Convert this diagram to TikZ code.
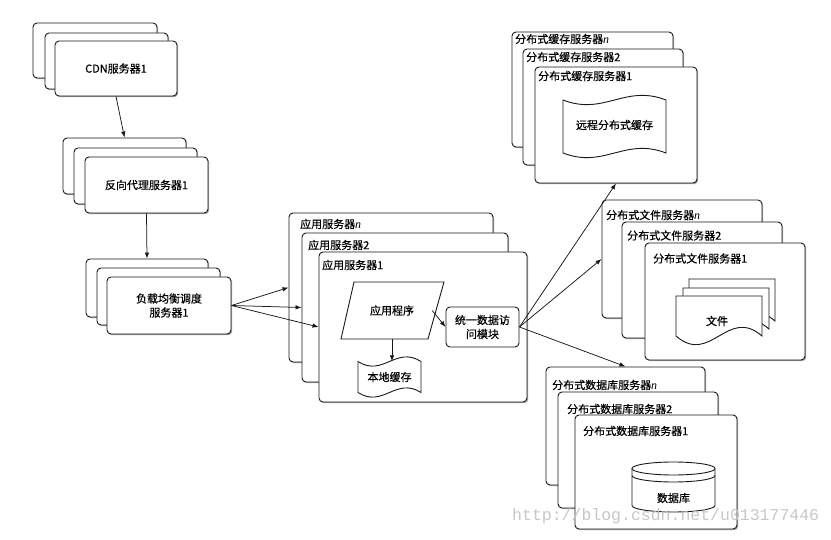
\documentclass[tikz,border=0pt]{standalone}
\usepackage{fontspec}
\setmainfont{Noto Sans CJK SC}[FakeBold=0.5]
\newfontfamily\wmfont{Liberation Mono}
\newfontfamily\nfont{Liberation Serif}
\newcommand\nn{{\nfont\itshape\fontsize{12}{14}\selectfont n}}
\usetikzlibrary{arrows.meta,shadows}
\tikzset{
  box/.style={draw=black!90, line width=0.9pt, fill=white, rounded corners=4pt, inner sep=0pt,
    drop shadow={shadow xshift=1.2pt, shadow yshift=-1.2pt, opacity=0.35, fill=black}},
  rbox/.style={draw=black!90, line width=0.9pt, fill=white, rounded corners=4pt, inner sep=0pt},
  txt/.style={font=\fontsize{11}{14}\selectfont, text=black, inner sep=0pt, align=center},
  lbl/.style={txt, anchor=west},
  conn/.style={draw=black!90, line width=0.75pt, -{Latex[length=6pt,width=4.5pt]}},
  shp/.style={draw=black!90, line width=0.9pt, fill=white},
}
\newcommand\tapeshape[5]{%
  \draw[shp] (#1,#3) .. controls ({#1+0.4*(#2-#1)},{#3+#5}) and ({#1+0.6*(#2-#1)},{#3-#5}) .. (#2,#3)
    -- (#2,#4) .. controls ({#1+0.6*(#2-#1)},{#4-#5}) and ({#1+0.4*(#2-#1)},{#4+#5}) .. (#1,#4) -- cycle;}
\newcommand\docshape[5]{%
  \draw[shp] (#1,#3) -- (#2,#3) -- (#2,#4) .. controls ({#1+0.6*(#2-#1)},{#4-#5}) and ({#1+0.4*(#2-#1)},{#4+#5}) .. (#1,#4) -- cycle;}
\begin{document}
\begin{tikzpicture}[x=1pt,y=-1pt]
\useasboundingbox (0,0) rectangle (831,540);

% CDN
\node[box, minimum width=124pt, minimum height=55pt] (cdn3) at (95,50.5) {};
\node[box, minimum width=123pt, minimum height=56pt] (cdn2) at (106.5,61) {};
\node[box, txt, minimum width=122pt, minimum height=55pt] (cdn1) at (116,68.5) {CDN服务器1};

% reverse proxy
\node[box, minimum width=123pt, minimum height=56pt] (px3) at (124.5,166) {};
\node[box, minimum width=123pt, minimum height=56pt] (px2) at (135.5,176) {};
\node[box, txt, minimum width=123pt, minimum height=56pt] (px1) at (146.5,185) {反向代理服务器1};

% load balancer
\node[box, minimum width=122pt, minimum height=58pt] (lb3) at (147,288) {};
\node[box, minimum width=123pt, minimum height=57pt] (lb2) at (158.5,296.5) {};
\node[box, txt, minimum width=124pt, minimum height=57pt] (lb1) at (169,305.5) {负载均衡调度\\服务器1};

% application servers
\node[box, minimum width=204pt, minimum height=149pt] (appn) at (391,287.5) {};
\node[lbl] (appnl) at (300,224) {应用服务器\nn};
\node[box, minimum width=206pt, minimum height=149pt] (app2) at (405,307.5) {};
\node[lbl] (app2l) at (308,245) {应用服务器2};
\node[box, minimum width=208pt, minimum height=150pt] (app1) at (423,327) {};
\node[lbl] (app1l) at (322,265) {应用服务器1};

\draw[shp] (354,282) -- (444,282) -- (428,339) -- (341,339) -- cycle;
\node[txt, minimum width=80pt, minimum height=57pt] (prog) at (392,310.5) {应用程序};
\tapeshape{358}{421}{361.5}{392.5}{16}
\node[txt, minimum width=60pt, minimum height=31pt] (lc) at (389.5,377) {本地缓存};
\node[rbox, txt, minimum width=73pt, minimum height=40pt] (unify) at (482.5,327) {统一数据访\\问模块};

% distributed cache
\node[box, minimum width=161pt, minimum height=115pt] (cachen) at (592.5,89.5) {};
\node[lbl] (cachenl) at (515,39) {分布式缓存服务器\nn};
\node[box, minimum width=160pt, minimum height=116pt] (cache2) at (603,107) {};
\node[lbl] (cache2l) at (526,57) {分布式缓存服务器2};
\node[box, minimum width=162pt, minimum height=116pt] (cache1) at (616,125) {};
\node[lbl] (cache1l) at (538,76) {分布式缓存服务器1};
\tapeshape{563}{666}{100}{153}{16}
\node[txt] (rc) at (614.5,125) {远程分布式缓存};

% distributed file
\node[box, minimum width=160pt, minimum height=118pt] (filen) at (682,259) {};
\node[lbl] (filenl) at (606,215) {分布式文件服务器\nn};
\node[box, minimum width=160pt, minimum height=116pt] (file2) at (702,280) {};
\node[lbl] (file2l) at (627,235.5) {分布式文件服务器2};
\node[box, minimum width=160pt, minimum height=117pt] (file1) at (725,301.5) {};
\node[lbl] (file1l) at (653,258.5) {分布式文件服务器1};
\docshape{689}{775}{279}{321}{30}
\docshape{683}{769}{288}{329}{30}
\docshape{676}{762}{296}{336}{30}
\node[txt] (files) at (717,321) {文件};

% distributed database
\node[box, minimum width=159pt, minimum height=118pt] (dbn) at (625.5,426) {};
\node[lbl] (dbnl) at (552,385) {分布式数据库服务器\nn};
\node[box, minimum width=160pt, minimum height=116pt] (db2) at (638,450) {};
\node[lbl] (db2l) at (567,409) {分布式数据库服务器2};
\node[box, minimum width=162pt, minimum height=114pt] (db1) at (656,472) {};
\node[lbl] (db1l) at (583,431) {分布式数据库服务器1};
\path[shp] (632,468.5) -- (632,505.5) arc[start angle=180, end angle=360, x radius=41.5pt, y radius=6.5pt] -- (715,468.5);
\draw[shp] (673.5,468.5) ellipse[x radius=41.5pt, y radius=6.5pt];
\draw[draw=black!90, line width=0.9pt] (632,475.5) arc[start angle=180, end angle=360, x radius=41.5pt, y radius=6.5pt];
\node[txt] (db) at (673.5,498) {数据库};

% connectors
\draw[conn] (cdn1.south) -- (px3.north);
\draw[conn] (px1.south) -- (lb3.north);
\draw[conn] (lb1.east) -- (appn.west);
\draw[conn] (lb1.east) -- (app2.west);
\draw[conn] (lb1.east) -- (app1.west);
\draw[conn] (prog.south) -- (prog.south |- lc.north);
\draw[conn] (prog.east) -- (unify.west);
\draw[conn] (unify.east) -- (cache1.south);
\draw[conn] (unify.east) -- (filen.west);
\draw[conn] (unify.east) -- (dbn.north);

% watermark
\node[font=\wmfont\fontsize{16.5}{16.5}\selectfont, text=black!22, anchor=west, inner sep=0pt] (wm) at (512,516) {http://blog.csdn.net/u013177446};
\end{tikzpicture}
\end{document}
